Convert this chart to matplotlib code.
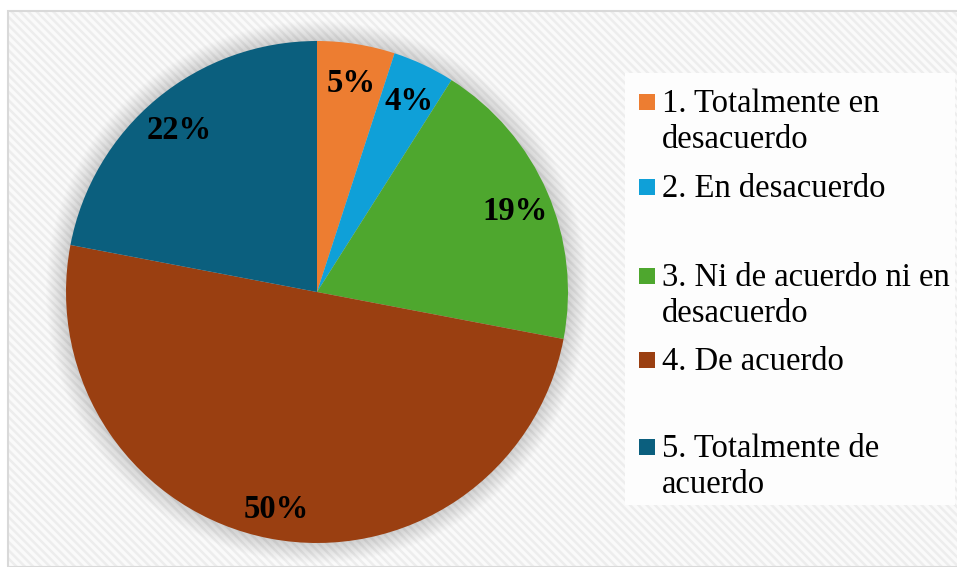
import matplotlib.pyplot as plt
from matplotlib.patches import Rectangle, Circle

categories = ['1. Totalmente en\ndesacuerdo', '2. En desacuerdo',
              '3. Ni de acuerdo ni en\ndesacuerdo', '4. De acuerdo',
              '5. Totalmente de\nacuerdo']
values = [5, 4, 19, 50, 22]
colors = ['#ED7D31', '#0FA0D8', '#4EA72E', '#9A3F11', '#0B5F7E']

W, H = 957, 567
plt.rcParams['font.family'] = ['Liberation Serif', 'DejaVu Serif']
plt.rcParams['hatch.linewidth'] = 1.8

fig = plt.figure(figsize=(W / 100, H / 100), dpi=100)
fig.patch.set_facecolor('white')

def px(x, y):
    # pixel coords (from top-left) -> figure fraction
    return x / W, 1 - y / H

# chart area with diagonal stripes
x0, y0 = px(8, 567)
fig.add_artist(Rectangle((x0, y0), 1.0 - x0 + 0.01, 1 - 11 / H - y0,
                         transform=fig.transFigure, facecolor='#fafafa',
                         edgecolor='#ededed', hatch='\\\\\\\\', linewidth=0, zorder=0))
fig.add_artist(Rectangle((x0, y0), 1.0 - x0 + 0.01, 1 - 11 / H - y0,
                         transform=fig.transFigure, facecolor='none',
                         edgecolor='#d9d9d9', linewidth=1.5, zorder=1))

# legend background
lx, ly = px(625, 505)
fig.add_artist(Rectangle((lx, ly), (955 - 625) / W, (505 - 73) / H,
                         transform=fig.transFigure, facecolor='#fdfdfd',
                         edgecolor='none', zorder=1))

cx, cy, r = 317, 292, 251
ax = fig.add_axes([(cx - r) / W, (H - cy - r) / H, 2 * r / W, 2 * r / H])
ax.set_zorder(2)

# soft shadow around the pie
for i in range(20):
    ax.add_patch(Circle((0, 0), 1 + (20 - i) * 0.004, facecolor='#000000',
                        alpha=0.007, edgecolor='none', clip_on=False, zorder=0))

wedges, texts, autotexts = ax.pie(values, colors=colors, startangle=90,
                                  counterclock=False, autopct='%1.0f%%',
                                  pctdistance=0.86,
                                  wedgeprops=dict(linewidth=0),
                                  textprops=dict(fontsize=23.5, fontweight='bold',
                                                 color='black'))
for w in wedges:
    w.set_zorder(2)
for t in autotexts:
    t.set_zorder(3)
    t.set_y(t.get_position()[1] - 0.02)
ax.set_xlim(-1, 1)
ax.set_ylim(-1, 1)
ax.set_aspect('equal')
ax.axis('off')

# legend (one text per line, lines 36 px apart)
first_line_y = [102, 187, 276, 360, 447]
for lab, col, yy in zip(categories, colors, first_line_y):
    mx, my = px(639, yy + 8)
    fig.add_artist(Rectangle((mx, my), 16 / W, 16 / H, transform=fig.transFigure,
                             facecolor=col, edgecolor='none', zorder=3))
    for k, line in enumerate(lab.split('\n')):
        tx, ty = px(662, yy + 10 + 36 * k)
        fig.text(tx, ty, line, fontsize=23.5, va='baseline', ha='left', zorder=3)

fig.savefig('out.png', dpi=100)
